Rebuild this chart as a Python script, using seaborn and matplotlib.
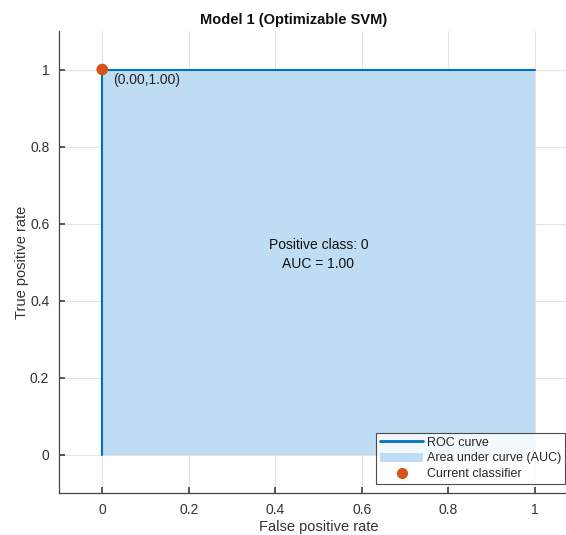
import matplotlib
matplotlib.use("Agg")
import matplotlib.pyplot as plt
import seaborn as sns
import pandas as pd
from matplotlib.patches import Patch
from matplotlib.lines import Line2D

fpr = [0.0, 0.0, 1.0]
tpr = [0.0, 1.0, 1.0]
current_fpr = [0.0]
current_tpr = [1.0]
title = "Model 1 (Optimizable SVM)"
xticks = [0, 0.2, 0.4, 0.6, 0.8, 1]
yticks = [0, 0.2, 0.4, 0.6, 0.8, 1]

sns.set_theme(style="white")
plt.rcParams['font.family'] = ['Liberation Sans', 'DejaVu Sans']

line_c = "#0072BD"
fill_c = "#BFDDF2"
pt_c = "#D95319"

fig = plt.figure(figsize=(5.66, 5.35), dpi=100)
ax = fig.add_axes([59/566, (535-493)/535, (578-59)/566, (493-31)/535])

df = pd.DataFrame({"fpr": fpr, "tpr": tpr})
ax.fill_between(df["fpr"], df["tpr"], color=fill_c, linewidth=0, zorder=1)
sns.lineplot(data=df, x="fpr", y="tpr", ax=ax, color=line_c, linewidth=1.5,
             sort=False, estimator=None, zorder=3)
pts = pd.DataFrame({"x": current_fpr, "y": current_tpr})
sns.scatterplot(data=pts, x="x", y="y", ax=ax, color=pt_c, s=70, edgecolor="none", zorder=5)
ax.text(current_fpr[0] + 0.025, current_tpr[0] - 0.008, f"({current_fpr[0]:.2f},{current_tpr[0]:.2f})",
        fontsize=10, va="top", ha="left", color="#222222")

ax.text(0.5, 0.52, "Positive class: 0\nAUC = 1.00", ha="center", va="center",
        fontsize=10, linespacing=1.45, color="#111111")

ax.set_xlim(-0.1, 1.1)
ax.set_ylim(-0.1, 1.1)
ax.set_xticks(xticks)
ax.set_yticks(yticks)
ax.set_xticklabels([f"{t:g}" for t in xticks], fontsize=10, color="#333333")
ax.set_yticklabels([f"{t:g}" for t in yticks], fontsize=10, color="#333333")
ax.grid(True, color="#E3E3E3", linewidth=0.8)
ax.set_axisbelow(True)
for s in ["top", "right"]:
    ax.spines[s].set_visible(False)
for s in ["left", "bottom"]:
    ax.spines[s].set_color("#444444")
    ax.spines[s].set_linewidth(0.9)
ax.tick_params(direction="in", length=4, color="#444444", bottom=True, left=True, pad=7)
ax.set_xlabel("False positive rate", fontsize=10.5, color="#333333", labelpad=2)
ax.set_ylabel("True positive rate", fontsize=10.5, color="#333333", labelpad=1)
ax.set_title(title, fontsize=10.5, fontweight="bold", pad=5, color="#111111",
             x=(294 - 59) / 519)

handles = [Line2D([0], [0], color=line_c, linewidth=2),
           Patch(facecolor=fill_c, edgecolor="none"),
           Line2D([0], [0], marker="o", color="none", markerfacecolor=pt_c,
                  markeredgecolor="none", markersize=8)]
labels = ["ROC curve", "Area under curve (AUC)", "Current classifier"]
leg = fig.legend(handles, labels, loc="upper left", bbox_to_anchor=(376/566, 1 - 433/535),
                 fontsize=9, frameon=True, fancybox=False, edgecolor="#222222",
                 borderpad=0.3, labelspacing=0.3, handlelength=3.5, handletextpad=0.25,
                 borderaxespad=0)
leg.get_frame().set_linewidth(0.8)

fig.savefig("out.png", dpi=100)
